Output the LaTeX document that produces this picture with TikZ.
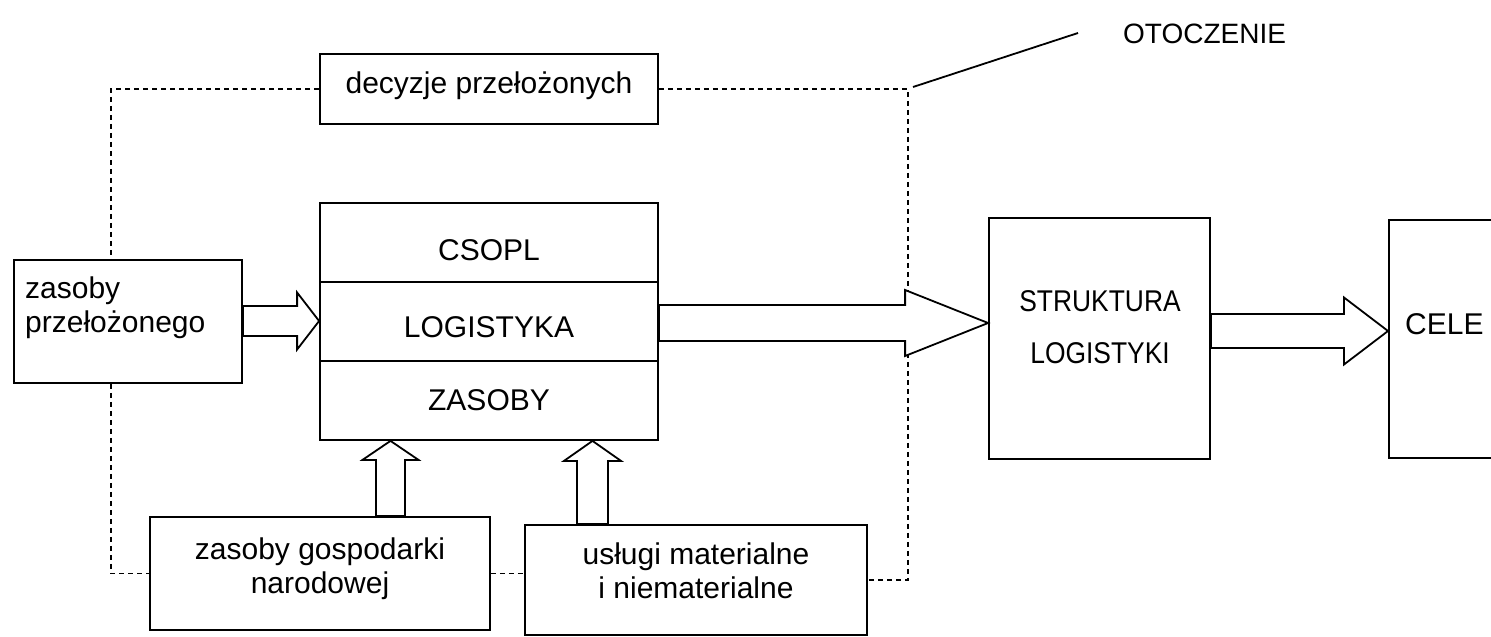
\documentclass[tikz,border=0pt]{standalone}
\usepackage{fontspec}
\setmainfont{Liberation Sans}
\newfontfamily\narrowfont[FakeStretch=0.88]{Liberation Sans}
\usetikzlibrary{calc}

% block arrow pointing right: source, target, y, half shaft, half head, head length
\newcommand\blockright[6]{%
  \draw[blk] let \p1=(#1.east), \p2=(#2.west |- 0,#3) in
    (\x1,\y2+#4pt) -- (\x2-#6pt,\y2+#4pt) -- (\x2-#6pt,\y2+#5pt) -- (\x2,\y2)
    -- (\x2-#6pt,\y2-#5pt) -- (\x2-#6pt,\y2-#4pt) -- (\x1,\y2-#4pt) -- cycle;}
% block arrow pointing up: source, target, x, half shaft, half head, head length
\newcommand\blockup[6]{%
  \draw[blk] let \p1=(#1.north), \p2=(#2.south -| #3,0) in
    (\x2-#4pt,\y1) -- (\x2-#4pt,\y2-#6pt) -- (\x2-#5pt,\y2-#6pt) -- (\x2,\y2)
    -- (\x2+#5pt,\y2-#6pt) -- (\x2+#4pt,\y2-#6pt) -- (\x2+#4pt,\y1) -- cycle;}

\tikzset{
  box/.style={draw, line width=1.8pt, rectangle, inner sep=0pt},
  blk/.style={draw, fill=white, line width=1.8pt, line join=miter},
  dsh/.style={line width=1.4pt, dash pattern=on 5pt off 4pt},
  txt/.style={inner sep=0pt, font=\fontsize{30}{34}\selectfont, align=center},
}

\begin{document}
\begin{tikzpicture}[x=1pt, y=-1pt]
\useasboundingbox (0,0) rectangle (1491,637);
\fill[white] (0,0) rectangle (1491,637);

% boxes
\node[box, minimum width=338, minimum height=70] (dec) at (489,89) {};
\node[box, minimum width=228, minimum height=123] (zp) at (128,321.5) {};
\node[box, minimum width=338, minimum height=79] (csopl) at (489,242.5) {};
\node[box, minimum width=338, minimum height=79] (logi) at (489,321.5) {};
\node[box, minimum width=338, minimum height=79] (zas) at (489,400.5) {};
\node[box, minimum width=221, minimum height=241] (str) at (1099.5,338.5) {};
\node[box, minimum width=200, minimum height=238, anchor=west] (cele) at (1388,339) {};
\node[box, minimum width=340, minimum height=113] (zg) at (320,573.5) {};
\node[box, minimum width=342, minimum height=110] (us) at (696,580) {};

% texts (multi-line nodes: base is the baseline of the last line)
\node[txt, anchor=base] (dect) at (489,93) {decyzje przełożonych};
\node[txt, anchor=base] (csoplt) at (489,260) {CSOPL};
\node[txt, anchor=base] (logit) at (489,337) {LOGISTYKA};
\node[txt, anchor=base] (zast) at (489,410) {ZASOBY};
\node[txt, anchor=base west, align=left] (zpt) at (25,332) {zasoby\\przełożonego};
\node[txt, anchor=base, font=\narrowfont\fontsize{30}{52}\selectfont] (strt) at (1100,363) {STRUKTURA\\LOGISTYKI};
\node[txt, anchor=base west] (celet) at (1405,334) {CELE};
\node[txt, anchor=base] (zgt) at (320,593) {zasoby gospodarki\\narodowej};
\node[txt, anchor=base] (ust) at (696,598) {usługi materialne\\i niematerialne};
\node[txt, anchor=base west, font=\fontsize{28}{34}\selectfont] (oto) at (1123,43) {OTOCZENIE};

% environment boundary
\coordinate (lx) at (111,0);
\coordinate (rx) at (908,0);
\coordinate (lend) at (1078,33);
\draw[dsh] (dec.west) -| (lx |- zp.north);
\draw[dsh] (lx |- zp.south) |- (zg.west);
\draw[dsh] (zg.east) -- (zg.east -| us.west);
\draw[dsh] (dec.east) -| (rx |- us.east) -- (us.east);
\draw[line width=1.8pt] (rx |- dec.east) ++(5,-2) -- (lend);

% flows
\blockright{zp}{logi}{321}{15}{28.5}{22}
\blockright{logi}{str}{323}{18}{33}{83}
\blockright{str}{cele}{331}{17}{33.5}{44}
\blockup{zg}{zas}{390.5}{14.5}{28}{19}
\blockup{us}{zas}{592.5}{15.5}{28.5}{20}
\end{tikzpicture}
\end{document}
